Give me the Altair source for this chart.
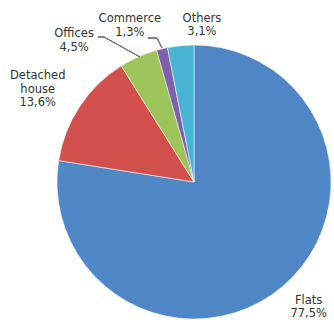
import altair as alt
import pandas as pd

categories = ["Flats", "Detached house", "Offices", "Commerce", "Others"]
shares = [77.5, 13.6, 4.5, 1.3, 3.1]
share_labels = ["77,5%", "13,6%", "4,5%", "1,3%", "3,1%"]
label_names = ["Flats", "Detached\nhouse", "Offices", "Commerce", "Others"]
colors = ["#4f86c6", "#d2504c", "#9dc45a", "#7e60ab", "#49b3d3"]

df = pd.DataFrame({
    "category": categories,
    "share": shares,
    "order": list(range(len(categories))),
    "label": [n + "\n" + s for n, s in zip(label_names, share_labels)],
})

CX, CY, R = 194, 182, 137
theta_scale = alt.Scale(domain=[0, 100])

base = alt.Chart(df)

pie = base.mark_arc(outerRadius=R, stroke="#f4f4f4", strokeWidth=0.6).encode(
    x=alt.value(CX),
    y=alt.value(CY),
    theta=alt.Theta("share:Q", stack=True, scale=theta_scale),
    order=alt.Order("order:Q"),
    color=alt.Color("category:N", scale=alt.Scale(domain=categories, range=colors), legend=None),
)

lab_base = base.transform_window(
    cum="sum(share)", sort=[alt.SortField("order")], frame=[None, 0]
).transform_calculate(mid="datum.cum - datum.share / 2")

offsets = {
    "Flats": (14, 1),
    "Detached house": (-27, -20),
    "Offices": (-57, -6),
    "Commerce": (-28, -12),
    "Others": (23, -9),
}

layers = [pie]
for cat, (dx, dy) in offsets.items():
    layers.append(
        lab_base.transform_filter(alt.datum.category == cat)
        .mark_text(
            radius=155, dx=dx, dy=dy, font="DejaVu Sans", fontSize=11.5,
            lineBreak="\n", lineHeight=13.5, color="#333333",
            align="center", baseline="middle",
        )
        .encode(
            x=alt.value(CX),
            y=alt.value(CY),
            theta=alt.Theta("mid:Q", stack=None, scale=theta_scale),
            text="label:N",
        )
    )

# leader lines (annotations)
leader_color = "#7a7a7a"
def seg(x1, y1, x2, y2):
    return base.mark_rule(color=leader_color, strokeWidth=0.8).encode(
        x=alt.value(x1), y=alt.value(y1), x2=alt.value(x2), y2=alt.value(y2)
    )

layers += [
    seg(98, 37, 104, 37), seg(104, 37, 140, 57),
    seg(148, 38, 157, 38), seg(157, 38, 162, 48),
]

chart = alt.layer(*layers).properties(
    width=334, height=320, padding=0, autosize="none"
).configure_view(stroke=None)

chart.save("out.html", embed_options={"renderer": "svg", "actions": False})
